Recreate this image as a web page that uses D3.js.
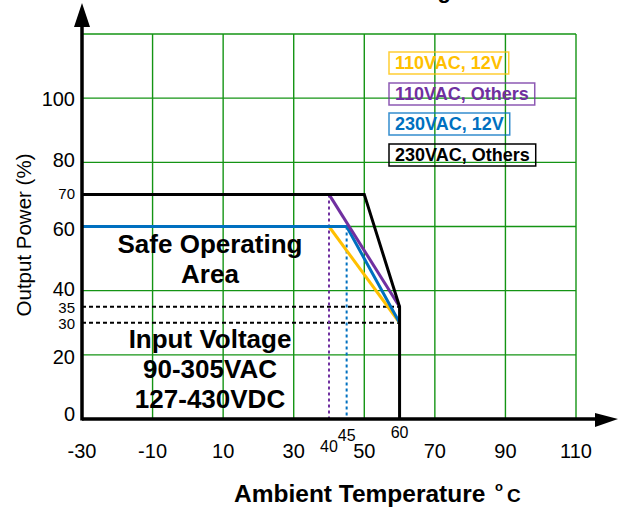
<!DOCTYPE html>
<html>
<head>
<meta charset="utf-8">
<script src="https://cdn.jsdelivr.net/npm/d3@7/dist/d3.min.js"></script>
<style>
  html, body { margin: 0; padding: 0; background: #fff; }
  svg { display: block; font-family: "Liberation Sans", Arial, sans-serif; }
</style>
</head>
<body>
<svg id="chart" width="623" height="510"></svg>
<script>
// ---- data ----
const xTicks = [-30, -10, 10, 30, 50, 70, 90, 110];
const xSpecialTicks = [40, 45, 60];
const yTicks = [0, 20, 40, 60, 80, 100];
const ySpecialTicks = [30, 35, 70];
const yGrid = [20, 40, 60, 80, 100, 120];

const seriesNames = ["110VAC, 12V", "110VAC, Others", "230VAC, 12V", "230VAC, Others"];
const seriesColors = ["#FFC000", "#7030A0", "#0070C0", "#000000"];
const temps110_12 = [40, 60];
const power110_12 = [60, 30];
const temps110_oth = [40, 60];
const power110_oth = [70, 35];
const temps230_12 = [-30, 45, 60];
const power230_12 = [60, 60, 30];
const temps230_oth = [-30, 50, 60, 60];
const power230_oth = [70, 70, 35, 0];

const markerTemps = [40, 45];
const markerPower = [70, 60];
const markerColors = ["#7030A0", "#0070C0"];
const dashLevels = [35, 30];
const dashFrom = -30, dashTo = 60;

const areaLines1 = ["Safe Operating", "Area"];
const areaLines2 = ["Input Voltage", "90-305VAC", "127-430VDC"];

// ---- drawing ----
const svg = d3.select("#chart");
const x = d3.scaleLinear().domain([-30, 110]).range([82, 576]);
const y = d3.scaleLinear().domain([0, 120]).range([419, 34]);

svg.append("rect").attr("width", 623).attr("height", 510).attr("fill", "#fff");

// clipped title fragment
svg.append("text").attr("x", 451).attr("y", -2).attr("text-anchor", "end")
  .attr("font-size", 22).attr("font-weight", "bold").text("Derating");

// grid
const grid = svg.append("g").attr("stroke", "#149414").attr("stroke-width", 1.4);
grid.selectAll("line.v").data(xTicks.slice(1)).join("line")
  .attr("x1", d => x(d)).attr("x2", d => x(d)).attr("y1", y(0)).attr("y2", y(120));
grid.selectAll("line.h").data(yGrid).join("line")
  .attr("x1", x(-30)).attr("x2", x(110)).attr("y1", d => y(d)).attr("y2", d => y(d));

// dashed level lines
svg.selectAll("line.lvl").data(dashLevels).join("line")
  .attr("x1", x(dashFrom)).attr("x2", x(dashTo))
  .attr("y1", d => y(d)).attr("y2", d => y(d))
  .attr("stroke", "#000").attr("stroke-width", 2).attr("stroke-dasharray", "4,3");

// dotted markers
svg.selectAll("line.mk").data(markerTemps).join("line")
  .attr("x1", d => x(d)).attr("x2", d => x(d))
  .attr("y1", (d, i) => y(markerPower[i])).attr("y2", y(0))
  .attr("stroke", (d, i) => markerColors[i]).attr("stroke-width", 2)
  .attr("stroke-dasharray", "3,3");

// series lines
const series = [
  [temps110_12, power110_12],
  [temps230_12, power230_12],
  [temps110_oth, power110_oth],
  [temps230_oth, power230_oth]
];
const seriesColorOrder = [seriesColors[0], seriesColors[2], seriesColors[1], seriesColors[3]];
const line = d3.line().x(d => x(d[0])).y(d => y(d[1]));
series.forEach((s, i) => {
  const pts = s[0].map((t, j) => [t, s[1][j]]);
  svg.append("path").attr("d", line(pts)).attr("fill", "none")
    .attr("stroke", seriesColorOrder[i]).attr("stroke-width", 3)
    .attr("stroke-linejoin", "miter");
});

// axes
svg.append("line").attr("x1", x(-30)).attr("x2", 600).attr("y1", y(0)).attr("y2", y(0))
  .attr("stroke", "#000").attr("stroke-width", 3.5);
svg.append("path").attr("d", `M595,413 L618,${y(0)} L595,427 Z`).attr("fill", "#000");
svg.append("line").attr("x1", x(-30)).attr("x2", x(-30)).attr("y1", y(0) + 1.5).attr("y2", 20)
  .attr("stroke", "#000").attr("stroke-width", 3.5);
svg.append("path").attr("d", `M74,27 L${x(-30)},3 L90,27 Z`).attr("fill", "#000");

// tick labels
svg.selectAll("text.xt").data(xTicks).join("text")
  .attr("x", d => x(d)).attr("y", 458).attr("text-anchor", "middle")
  .attr("font-size", 20).text(d => d);
const xSpecialY = { 40: 452, 45: 441, 60: 438 };
svg.selectAll("text.xs").data(xSpecialTicks).join("text")
  .attr("x", d => x(d)).attr("y", d => xSpecialY[d]).attr("text-anchor", "middle")
  .attr("font-size", 16).text(d => d);
const yLabelShift = { 0: -5, 20: 2, 40: -2, 60: 2, 80: -2, 100: 1 };
svg.selectAll("text.yt").data(yTicks).join("text")
  .attr("x", 75).attr("y", d => y(d) + yLabelShift[d]).attr("text-anchor", "end")
  .attr("dominant-baseline", "central").attr("font-size", 20).text(d => d);
const ySpecialShift = { 30: 1, 35: 1, 70: -1 };
svg.selectAll("text.ys").data(ySpecialTicks).join("text")
  .attr("x", 75).attr("y", d => y(d) + ySpecialShift[d]).attr("text-anchor", "end")
  .attr("dominant-baseline", "central").attr("font-size", 15).text(d => d);

// axis titles
svg.append("text").attr("transform", "translate(31,235) rotate(-90)")
  .attr("text-anchor", "middle").attr("font-size", 20.5).text("Output Power (%)");
svg.append("text").attr("x", 234).attr("y", 502).attr("font-size", 24.5)
  .attr("font-weight", "bold").text("Ambient Temperature");
svg.append("text").attr("x", 495).attr("y", 491).attr("font-size", 13)
  .attr("font-weight", "bold").text("o");
svg.append("text").attr("x", 507).attr("y", 502).attr("font-size", 19)
  .attr("font-weight", "bold").text("C");

// area annotations
svg.selectAll("text.a1").data(areaLines1).join("text")
  .attr("x", 210).attr("y", (d, i) => 253 + i * 30).attr("text-anchor", "middle")
  .attr("font-size", 26).attr("font-weight", "bold").text(d => d);
svg.selectAll("text.a2").data(areaLines2).join("text")
  .attr("x", 210).attr("y", (d, i) => 348 + i * 30).attr("text-anchor", "middle")
  .attr("font-size", 26).attr("font-weight", "bold").text(d => d);

// legend
const legendTop = [52, 83, 113, 144];
const lg = svg.selectAll("g.lg").data(seriesNames).join("g")
  .attr("transform", (d, i) => `translate(389,${legendTop[i]})`);
lg.append("text").attr("x", 6).attr("y", 17).attr("font-size", 18).attr("font-weight", "bold")
  .attr("fill", (d, i) => seriesColors[i]).text(d => d);
lg.each(function (d, i) {
  const g = d3.select(this);
  const w = g.select("text").node().getComputedTextLength();
  g.insert("rect", "text").attr("x", 0).attr("y", 0).attr("width", w + 12).attr("height", 22)
    .attr("fill", "none").attr("stroke", seriesColors[i]).attr("stroke-width", 1.5)
    .attr("stroke-opacity", i === 3 ? 1 : 0.8);
});
</script>
</body>
</html>
